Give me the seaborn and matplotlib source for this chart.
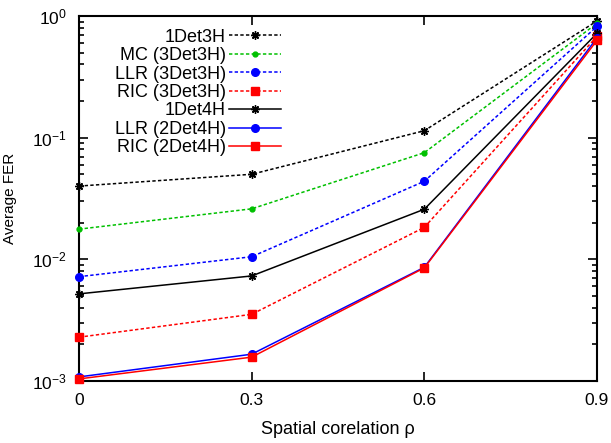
import matplotlib
matplotlib.use('Agg')
import matplotlib.pyplot as plt
import seaborn as sns
import pandas as pd

# data
rho = [0, 0.3, 0.6, 0.9]
det3h_1 = [0.040, 0.050, 0.114, 0.91]
mc_3det3h = [0.0177, 0.0260, 0.0752, 0.87]
llr_3det3h = [0.0072, 0.0105, 0.0438, 0.82]
ric_3det3h = [0.00229, 0.00353, 0.0183, 0.68]
det4h_1 = [0.0052, 0.0073, 0.0258, 0.72]
llr_2det4h = [0.00108, 0.00166, 0.0086, 0.66]
ric_2det4h = [0.00104, 0.00157, 0.0085, 0.63]

labels = ['1Det3H', 'MC (3Det3H)', 'LLR (3Det3H)', 'RIC (3Det3H)',
          '1Det4H', 'LLR (2Det4H)', 'RIC (2Det4H)']
series = [det3h_1, mc_3det3h, llr_3det3h, ric_3det3h, det4h_1, llr_2det4h, ric_2det4h]

plt.rcParams['font.family'] = ['Liberation Sans', 'DejaVu Sans']
plt.rcParams['mathtext.fontset'] = 'custom'
plt.rcParams['mathtext.rm'] = 'Liberation Sans'
plt.rcParams['mathtext.it'] = 'Liberation Sans:italic'

star = (8, 2, 0)
dash = (2.2, 1.5)
styles = [
    dict(color='black', marker=star, markersize=6, ls=dash),
    dict(color='#00c000', marker='o', markersize=3.5, ls=dash),
    dict(color='blue', marker='o', markersize=5.5, ls=dash),
    dict(color='red', marker='s', markersize=6, ls=dash),
    dict(color='black', marker=star, markersize=6, ls='-'),
    dict(color='blue', marker='o', markersize=5.5, ls='-'),
    dict(color='red', marker='s', markersize=6, ls='-'),
]

fig = plt.figure(figsize=(6.11, 4.43), dpi=100)
ax = fig.add_axes([0.1293, 0.14, 0.8477, 0.8239])

for lab, vals, st in zip(labels, series, styles):
    df = pd.DataFrame({'rho': rho, 'fer': vals})
    sns.lineplot(data=df, x='rho', y='fer', ax=ax, color=st['color'], marker=st['marker'],
                 markersize=st['markersize'], markeredgecolor=st['color'],
                 markeredgewidth=1.0, linewidth=1.1, label=lab, zorder=3)
    l = ax.get_lines()[-1]
    if st['ls'] == '-':
        l.set_linestyle('-')
    else:
        l.set_dashes(st['ls'])
    l.set_clip_on(False)

ax.set_yscale('log')
ax.set_xlim(0, 0.9)
ax.set_ylim(1e-3, 1)
ax.set_xticks(rho)
ax.set_xticklabels(['0', '0.3', '0.6', '0.9'])
ax.set_yticks([1e-3, 1e-2, 1e-1, 1])
ax.set_yticklabels([r'$10^{-3}$', r'$10^{-2}$', r'$10^{-1}$', r'$10^{0}$'])
ax.tick_params(which='major', direction='in', top=True, right=True, length=6.5, width=1.2,
               color='black', labelsize=12.5, pad=9)
ax.tick_params(axis='y', which='minor', direction='in', left=True, right=True,
               length=3.8, width=1.2, color='black')
for sp in ax.spines.values():
    sp.set_linewidth(1.5)
    sp.set_color('black')

ax.set_xlabel('Spatial corelation ρ', fontsize=13, labelpad=9)
ax.set_ylabel('Average FER', fontsize=11)
ax.yaxis.set_label_coords(-0.12, 0.5)

leg = ax.legend(loc='upper left', bbox_to_anchor=(0.055, 0.985), frameon=False, markerfirst=False,
                fontsize=13, handlelength=2.9, handletextpad=0.15, labelspacing=0.08, borderaxespad=0)
# right-align the legend rows, text sits to the left of the line sample
for col in leg._legend_handle_box.get_children():
    col.align = 'right'

fig.savefig('out.png', dpi=100)
